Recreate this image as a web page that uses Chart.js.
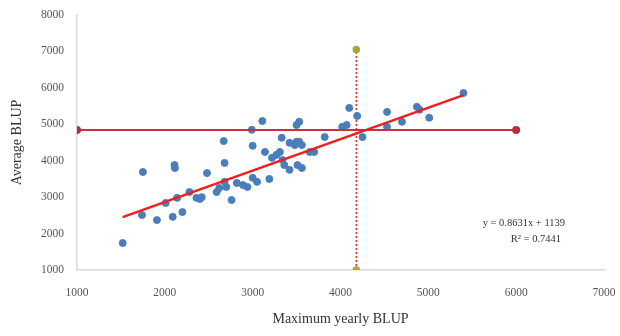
<!DOCTYPE html>
<html>
<head>
<meta charset="utf-8">
<script src="https://cdn.jsdelivr.net/npm/chart.js@4"></script>
<style>
  html, body { margin: 0; padding: 0; background: #fff; }
  #wrap { width: 620px; height: 336px; }
</style>
</head>
<body>
<div id="wrap"><canvas id="myChart" width="620" height="336"></canvas></div>
<script>
// scatter values
const blupX = [1520, 1750, 1740, 1910, 2090, 2110, 2115, 2200, 2010, 2140,
  2280, 2360, 2420, 2480, 2590, 2700, 2760, 2680, 2670, 2990,
  3110, 3000, 2820, 2890, 2940, 3000, 3050, 3190, 3140, 3220,
  3270, 3330, 3310, 3340, 3420, 3480, 3500, 3360, 3420, 3510,
  3560, 3530, 3500, 3650, 3700, 3820, 3530, 3560, 4020, 4070,
  4100, 4190, 4250, 4530, 4530, 4700, 4870, 4900, 5010, 5400,
  2620, 2680, 2400];
const blupY = [1740, 3690, 2510, 2370, 2460, 3880, 3800, 2590, 2840, 2980,
  3140, 2980, 3000, 3660, 3140, 3280, 2920, 3940, 4540, 4850,
  5090, 4410, 3390, 3330, 3280, 3530, 3420, 3500, 4240, 4080,
  4160, 4630, 4240, 4020, 4490, 4430, 4520, 3880, 3750, 3880,
  3800, 5070, 4980, 4240, 4240, 4650, 4520, 4430, 4930, 4980,
  5450, 5230, 4650, 5340, 4930, 5070, 5480, 5400, 5180, 5860,
  3250, 3420, 2950];

const trendX = [1520, 5400];
const trendY = [2450, 5800];

const meanX = [1000, 6000];
const meanY = [4840, 4840];

const cutX = [4180, 4180];
const cutY = [1000, 7050];

const xTicks = [1000, 2000, 3000, 4000, 5000, 6000, 7000];
const yTicks = [1000, 2000, 3000, 4000, 5000, 6000, 7000, 8000];

const eqText = ['y = 0.8631x + 1139', 'R\u00b2 = 0.7441'];

const pts = (xs, ys) => xs.map((x, i) => ({x: x, y: ys[i]}));

const serif = '"Liberation Serif", "Times New Roman", serif';

// regression equation label, placed in the lower right
const eqLabel = {
  id: 'eqLabel',
  afterDraw(chart) {
    const c = chart.ctx;
    c.save();
    c.fillStyle = '#333';
    c.font = '10.5px ' + serif;
    c.textAlign = 'right';
    c.textBaseline = 'middle';
    c.fillText(eqText[0], 565, 223);
    c.fillText(eqText[1], 561, 239);
    c.restore();
  }
};

const ctx = document.getElementById('myChart').getContext('2d');
new Chart(ctx, {
  type: 'scatter',
  data: {
    datasets: [
      {
        label: 'cut',
        type: 'line',
        data: pts(cutX, cutY),
        borderColor: '#E0302A',
        borderWidth: 1.5,
        borderDash: [2, 2],
        pointRadius: 3,
        pointBackgroundColor: '#A5A83C',
        pointBorderColor: '#A5A83C',
        order: 3
      },
      {
        label: 'BLUP',
        data: pts(blupX, blupY),
        backgroundColor: '#4A7EBB',
        borderColor: '#4A7EBB',
        pointRadius: 3.5,
        order: 2
      },
      {
        label: 'mean',
        type: 'line',
        data: pts(meanX, meanY),
        borderColor: '#C0343A',
        borderWidth: 2,
        pointRadius: 3,
        pointBackgroundColor: '#B5303A',
        pointBorderColor: '#B5303A',
        order: 1
      },
      {
        label: 'trend',
        type: 'line',
        data: pts(trendX, trendY),
        borderColor: '#F01E1E',
        borderWidth: 2.5,
        pointRadius: 0,
        order: 0
      }
    ]
  },
  options: {
    responsive: false,
    animation: false,
    layout: { padding: { left: 9, right: 16, top: 15, bottom: 6 } },
    plugins: { legend: false, tooltip: { enabled: false } },
    scales: {
      x: {
        type: 'linear',
        min: 1000,
        max: 7000,
        afterBuildTicks(axis) { axis.ticks = xTicks.map(v => ({value: v})); },
        afterFit(axis) {
          axis.height = 60;
          axis.paddingLeft = 0;
          axis.paddingRight = 0;
        },
        grid: { display: false, drawTicks: false },
        border: { color: '#D9D9D9', width: 1.5 },
        ticks: {
          padding: 16,
          color: '#555',
          font: { family: serif, size: 11.5 },
          maxRotation: 0,
          callback: v => String(v)
        },
        title: {
          display: true,
          text: 'Maximum yearly BLUP',
          color: '#333',
          font: { family: serif, size: 14 },
          padding: { top: 4, bottom: 2 }
        }
      },
      y: {
        type: 'linear',
        min: 1000,
        max: 8000,
        afterBuildTicks(axis) { axis.ticks = yTicks.map(v => ({value: v})); },
        afterFit(axis) {
          axis.width = 68;
          axis.paddingTop = 0;
          axis.paddingBottom = 0;
        },
        grid: { display: false, drawTicks: false },
        border: { color: '#D9D9D9', width: 1.5 },
        ticks: {
          padding: 13,
          color: '#555',
          font: { family: serif, size: 11.5 },
          callback: v => String(v)
        },
        title: {
          display: true,
          text: 'Average BLUP',
          color: '#333',
          font: { family: serif, size: 14 },
          padding: { top: 0, bottom: 4 }
        }
      }
    }
  },
  plugins: [eqLabel]
});
</script>
</body>
</html>
